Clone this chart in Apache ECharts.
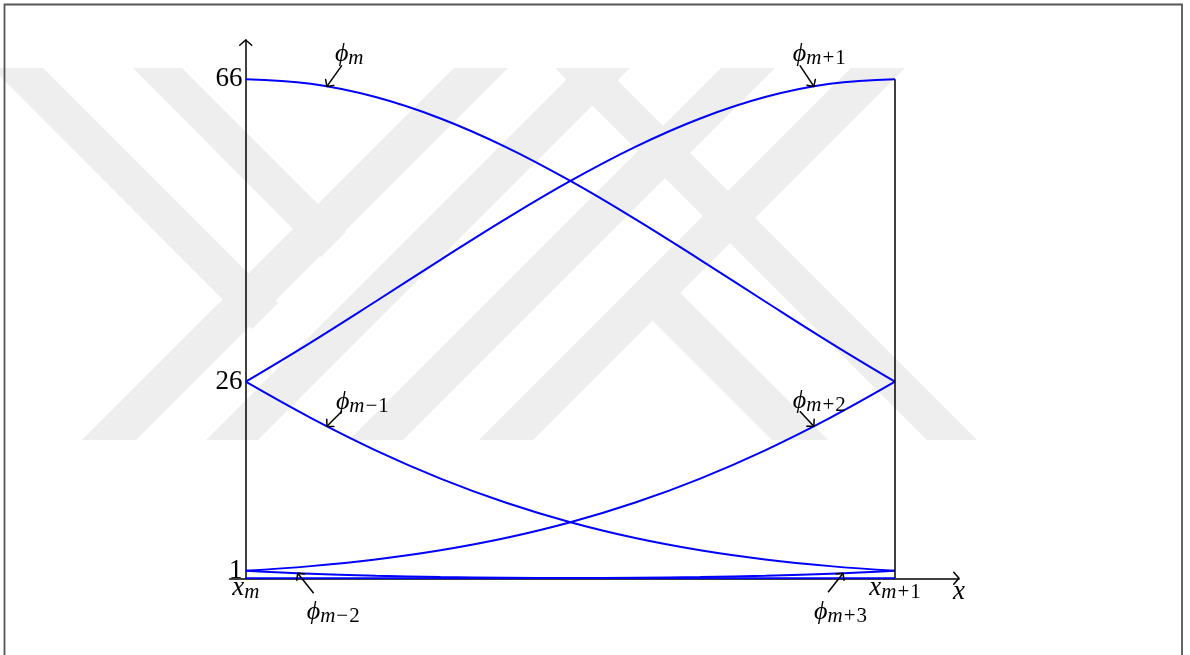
<!DOCTYPE html>
<html>
<head>
<meta charset="utf-8">
<script src="https://cdn.jsdelivr.net/npm/echarts@6/dist/echarts.min.js"></script>
<style>
html, body { margin: 0; padding: 0; background: #fff; }
#chart { width: 1190px; height: 655px; }
</style>
</head>
<body>
<div id="chart"></div>
<script>
// Quintic B-spline pieces on one knot interval [x_m, x_{m+1}] (values scaled by 120)
const xs = [0, 0.1, 0.2, 0.3, 0.4, 0.5, 0.6, 0.7, 0.8, 0.9, 1];

const phiMminus2 = [1, 0.59, 0.33, 0.17, 0.08, 0.03, 0.01, 0, 0, 0, 0];
const phiMminus1 = [26, 21.22, 16.93, 13.19, 10.02, 7.41, 5.32, 3.70, 2.49, 1.61, 1];
const phiM       = [66, 65.40, 63.65, 60.82, 57.07, 52.56, 47.51, 42.12, 36.61, 31.18, 26];
const phiMplus1  = [26, 31.18, 36.61, 42.12, 47.51, 52.56, 57.07, 60.82, 63.65, 65.40, 66];
const phiMplus2  = [1, 1.61, 2.49, 3.70, 5.32, 7.41, 10.02, 13.19, 16.93, 21.22, 26];
const phiMplus3  = [0, 0, 0, 0, 0.01, 0.03, 0.08, 0.17, 0.33, 0.59, 1];

const yTickValues = [1, 26, 66];
const xTickValues = [0, 1];
const xTickSubs = ['m', 'm+1'];

// Curve annotations: subscript, and the point on the curve the arrow points to
const annotSubs = ['m', 'm+1', 'm\u22121', 'm+2', 'm\u22122', 'm+3'];
const annotX = [0.125, 0.875, 0.125, 0.875, 0.08, 0.92];
const annotY = [65.06, 65.06, 20.10, 20.10, 0.66, 0.66];

const F = "'Liberation Serif', 'DejaVu Serif', serif";
const BLUE = '#0000ff';

function sub(s) {
  // italic index letter, upright sign and digit
  const m = s.match(/^([a-z]+)([+\u2212])?(\d)?$/);
  let out = '{s|' + m[1] + '}';
  if (m[2]) out += '{o|' + m[2] + '}';
  if (m[3]) out += '{n|' + m[3] + '}';
  return out;
}
const richBase = {
  p: { fontFamily: F, fontStyle: 'italic', fontSize: 26, lineHeight: 30, verticalAlign: 'middle', color: '#000' },
  i: { fontFamily: F, fontStyle: 'italic', fontSize: 27, lineHeight: 30, verticalAlign: 'middle', color: '#000' },
  s: { fontFamily: F, fontStyle: 'italic', fontSize: 21, lineHeight: 16, verticalAlign: 'bottom', color: '#000' },
  o: { fontFamily: F, fontSize: 21, lineHeight: 16, verticalAlign: 'bottom', color: '#000', padding: [0, 1, 0, 1] },
  n: { fontFamily: F, fontSize: 21, lineHeight: 16, verticalAlign: 'bottom', color: '#000' }
};

const chart = echarts.init(document.getElementById('chart'), null, { renderer: 'canvas' });

function curve(vals) {
  return {
    type: 'line',
    data: xs.map((x, k) => [x, vals[k]]),
    smooth: 0.4,
    showSymbol: false,
    silent: true,
    lineStyle: { color: BLUE, width: 2 },
    z: 3
  };
}

const series = [phiMminus2, phiMminus1, phiM, phiMplus1, phiMplus2, phiMplus3].map(curve);
// vertical line at x_{m+1}
series[3].markLine = {
  silent: true,
  symbol: 'none',
  label: { show: false },
  lineStyle: { color: '#000', width: 1.5, type: 'solid' },
  data: [[{ coord: [1, 0] }, { coord: [1, 66] }]]
};

const option = {
  animation: false,
  backgroundColor: '#fff',
  grid: { left: 229.5, right: 231, top: 40, bottom: 76.7, containLabel: false },
  xAxis: {
    type: 'value', min: -0.025, max: 1.0986,
    axisLine: { show: true, onZero: true, lineStyle: { color: '#000', width: 1.5 } },
    axisTick: { show: false },
    splitLine: { show: false },
    axisLabel: {
      customValues: xTickValues,
      margin: -5,
      formatter: v => '{i|x}' + sub(xTickSubs[xTickValues.indexOf(v)]),
      rich: richBase
    }
  },
  yAxis: {
    type: 'value', min: 0, max: 71.2,
    axisLine: { show: true, onZero: true, lineStyle: { color: '#000', width: 1.5 } },
    axisTick: { show: false },
    splitLine: { show: false },
    axisLabel: {
      customValues: yTickValues,
      margin: -13,
      fontFamily: F, fontSize: 27, color: '#000'
    }
  },
  series: series
};

chart.setOption(option);

// Arrow tips, annotation arrows and labels, placed through the grid's scales
function px(x, y) { return chart.convertToPixel({ gridIndex: 0 }, [x, y]); }

function head(tip, from, len, spread) {
  const ang = Math.atan2(tip[1] - from[1], tip[0] - from[0]);
  const a1 = ang + Math.PI - spread, a2 = ang + Math.PI + spread;
  return {
    type: 'polyline', silent: true, z: 10,
    shape: { points: [
      [tip[0] + len * Math.cos(a1), tip[1] + len * Math.sin(a1)],
      tip,
      [tip[0] + len * Math.cos(a2), tip[1] + len * Math.sin(a2)]
    ] },
    style: { stroke: '#000', lineWidth: 1.5, fill: null, lineJoin: 'round', lineCap: 'round' }
  };
}

const g = [];

// faint diagonal emblem in the background
const WM = '#eeeeee';
const emblem = [
  [[-8, 68], [43, 68], [278, 303], [252, 329]],
  [[133, 68], [182, 68], [346, 232], [321, 257]],
  [[454, 68], [508, 68], [136, 440], [82, 440]],
  [[578, 68], [630, 68], [258, 440], [206, 440]],
  [[555, 68], [605, 68], [977, 440], [927, 440]],
  [[721, 68], [775, 68], [403, 440], [349, 440]],
  [[851, 68], [905, 68], [533, 440], [479, 440]],
  [[653, 266], [828, 440], [772, 440], [626, 294]]
];
emblem.forEach(pts => g.push({ type: 'polygon', silent: true, z: -10,
  shape: { points: pts }, style: { fill: WM, stroke: null } }));

// frame
g.push({ type: 'polyline', silent: true, z: 20,
  shape: { points: [[4.5, 655], [4.5, 4.5], [1182, 4.5], [1182, 655]] },
  style: { stroke: '#555', lineWidth: 1.8, fill: null } });

// axis arrow heads
const xEnd = px(1.0986, 0), yEnd = px(0, 71.2);
g.push(head(xEnd, [xEnd[0] - 10, xEnd[1]], 8, 0.85));
g.push(head(yEnd, [yEnd[0], yEnd[1] + 10], 8, 0.85));
// axis name x
g.push({ type: 'text', silent: true, z: 10, x: xEnd[0], y: xEnd[1] + 14,
  style: { text: 'x', fontFamily: F, fontStyle: 'italic', fontSize: 27, fill: '#000', align: 'center', verticalAlign: 'middle' } });

// per-label tail offsets from the tip and label offsets from the tail (pixels)
const layout = [
  { tail: [15, -21], lab: [-7, -11] },
  { tail: [-14, -21], lab: [-7, -11] },
  { tail: [15, -15], lab: [-6, -9] },
  { tail: [-14, -15], lab: [-7, -10] },
  { tail: [16, 20], lab: [-7, 19] },
  { tail: [-15, 19], lab: [-14, 20] }
];
annotSubs.forEach((s, k) => {
  const tip = px(annotX[k], annotY[k]);
  const L = layout[k];
  const tail = [tip[0] + L.tail[0], tip[1] + L.tail[1]];
  g.push({ type: 'line', silent: true, z: 10,
    shape: { x1: tail[0], y1: tail[1], x2: tip[0], y2: tip[1] },
    style: { stroke: '#000', lineWidth: 1.5 } });
  g.push(head(tip, tail, 7, 0.8));
  g.push({ type: 'text', silent: true, z: 11,
    x: tail[0] + L.lab[0], y: tail[1] + L.lab[1],
    style: { text: '{p|\u03d5}' + sub(s), rich: richBase, align: 'left', verticalAlign: 'middle' } });
});

chart.setOption({ graphic: g });
</script>
</body>
</html>
